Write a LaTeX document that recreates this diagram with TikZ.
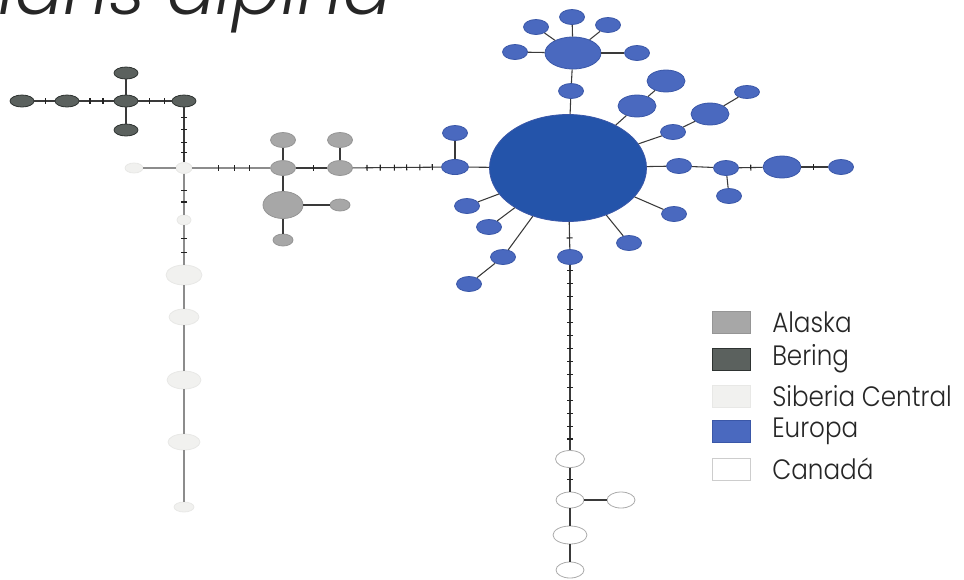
\documentclass[tikz,border=0pt]{standalone}
\usepackage{fontspec}
\setmainfont{Poppins}
\newfontfamily\lgfont{Poppins Light}
\newfontfamily\keyfont{Poppins Light}[FakeStretch=0.88]
\usetikzlibrary{shapes.geometric,decorations.markings}

\definecolor{berF}{HTML}{5B615E}
\definecolor{berD}{HTML}{2E3331}
\definecolor{alaF}{HTML}{A7A7A7}
\definecolor{alaD}{HTML}{959595}
\definecolor{sibF}{HTML}{F1F1EF}
\definecolor{sibD}{HTML}{E8E8E6}
\definecolor{eurF}{HTML}{4A69BF}
\definecolor{eurD}{HTML}{3A57A8}
\definecolor{eurBig}{HTML}{2454AA}
\definecolor{canD}{HTML}{ABABAB}
\definecolor{linkC}{HTML}{3A3A3A}
\definecolor{sibL}{HTML}{8C8C8C}
\definecolor{tkC}{HTML}{222222}

\tikzset{
  hap/.style 2 args={ellipse, inner sep=0pt, line width=0.6pt,
    minimum width=#1*0.75pt, minimum height=#2*0.75pt},
  ber/.style={draw=berD, fill=berF},
  ala/.style={draw=alaD, fill=alaF},
  sib/.style={draw=sibD, fill=sibF},
  eur/.style={draw=eurD, fill=eurF},
  can/.style={draw=canD, fill=white},
  link/.style={draw=linkC, line width=0.8pt},
  slink/.style={draw=sibL, line width=0.8pt},
  tk/.style={postaction={decorate, decoration={markings,
    mark=at position #1 with {\draw[tkC, line width=0.8pt] (0,-3) -- (0,3);}}}},
  tkrun/.style={postaction={decorate, decoration={markings,
    mark=#1 with {\draw[tkC, line width=0.8pt] (0,-3) -- (0,3);}}}},
  keybox/.style={rectangle, inner sep=0pt, minimum width=38*0.75pt,
    minimum height=22*0.75pt, line width=0.4pt},
  keytext/.style={anchor=west, inner sep=0pt, text=black!85,
    font=\keyfont\fontsize{21}{24}\selectfont},
}

\begin{document}
\begin{tikzpicture}[x=0.75pt, y=-0.75pt]
\useasboundingbox (0,0) rectangle (964,579);
\clip (0,0) rectangle (964,579);

% heading, partly cut by the top edge
\node[anchor=base east, inner sep=0pt, text=black!85,
  font=\lgfont\itshape\fontsize{54}{60}\selectfont] (title) at (392,14) {Callians alpina};

% ---------- Bering ----------
\node[hap={24}{12}, ber] (B1) at (22,101) {};
\node[hap={24}{12}, ber] (B2) at (67,101) {};
\node[hap={24}{12}, ber] (B3) at (126,101) {};
\node[hap={24}{12}, ber] (B4) at (126,73) {};
\node[hap={24}{12}, ber] (B5) at (126,130) {};
\node[hap={24}{12}, ber] (B6) at (184,101) {};

% ---------- Siberia Central ----------
\node[hap={16}{11}, sib] (S0) at (184,168) {};
\node[hap={18}{10}, sib] (SL) at (134,168) {};
\node[hap={14}{10}, sib] (S1) at (184,220) {};
\node[hap={36}{20}, sib] (S2) at (184,275) {};
\node[hap={30}{16}, sib] (S3) at (184,317) {};
\node[hap={34}{18}, sib] (S4) at (184,380) {};
\node[hap={32}{16}, sib] (S5) at (184,442) {};
\node[hap={20}{10}, sib] (S6) at (184,507) {};

% ---------- Alaska ----------
\node[hap={25}{15}, ala] (A1) at (283,168) {};
\node[hap={25}{15}, ala] (A2) at (283,140) {};
\node[hap={25}{15}, ala] (A3) at (340,168) {};
\node[hap={25}{15}, ala] (A4) at (340,140) {};
\node[hap={40}{27}, ala] (A5) at (283,205) {};
\node[hap={20}{12}, ala] (A6) at (340,205) {};
\node[hap={20}{12}, ala] (A7) at (283,240) {};

% ---------- Europa ----------
\node[hap={157}{107}, draw=eurD, fill=eurBig] (E0) at (568,168) {};
\node[hap={27}{15}, eur] (EL) at (455,167) {};
\node[hap={25}{15}, eur] (ELt) at (455,133) {};
\node[hap={25}{15}, eur] (E1) at (467,206) {};
\node[hap={25}{15}, eur] (E2) at (489,227) {};
\node[hap={25}{15}, eur] (E3) at (503,257) {};
\node[hap={25}{15}, eur] (E3b) at (469,284) {};
\node[hap={25}{15}, eur] (ED) at (570,257) {};
\node[hap={25}{15}, eur] (E4) at (629,243) {};
\node[hap={25}{15}, eur] (E5) at (674,214) {};
\node[hap={25}{15}, eur] (ER1) at (679,166) {};
\node[hap={25}{15}, eur] (ER2) at (726,168) {};
\node[hap={25}{15}, eur] (ER3) at (729,196) {};
\node[hap={38}{22}, eur] (ER4) at (782,167) {};
\node[hap={25}{15}, eur] (ER5) at (841,167) {};
\node[hap={25}{15}, eur] (EU1) at (673,132) {};
\node[hap={38}{22}, eur] (EU2) at (710,114) {};
\node[hap={25}{13}, eur] (EU3) at (747,92) {};
\node[hap={38}{22}, eur] (EV1) at (637,106) {};
\node[hap={38}{22}, eur] (EV2) at (666,81) {};
\node[hap={25}{15}, eur] (ET) at (571,91) {};
\node[hap={56}{32}, eur] (EH) at (573,53) {};
\node[hap={25}{15}, eur] (EH1) at (572,17) {};
\node[hap={25}{15}, eur] (EH2) at (536,27) {};
\node[hap={25}{15}, eur] (EH3) at (608,25) {};
\node[hap={25}{15}, eur] (EH4) at (515,52) {};
\node[hap={25}{15}, eur] (EH5) at (637,53) {};

% ---------- Canada ----------
\node[hap={29}{17}, can] (C1) at (570,459) {};
\node[hap={28}{16}, can] (C2) at (570,500) {};
\node[hap={28}{16}, can] (C3) at (621,500) {};
\node[hap={34}{18}, can] (C4) at (570,535) {};
\node[hap={28}{16}, can] (C5) at (570,570) {};

% ---------- connectors ----------
\draw[link, tk=0.55] (B1) -- (B2);
\draw[link, tk=0.31, tk=0.69] (B2) -- (B3);
\draw[link, tk=0.34, tk=0.8] (B3) -- (B6);
\draw[link] (B3) -- (B4);
\draw[link] (B3) -- (B5);
\draw[link, tk=0.18, tk=0.41, tk=0.64, tk=0.82] (B6) -- (S0);

\draw[slink] (SL) -- (S0);
\draw[slink, tk=0.34, tk=0.54, tk=0.74] (S0) -- (A1);
\draw[slink, tk=0.4, tk=0.69] (S0) -- (S1);
\draw[slink, tk=0.33, tk=0.68] (S1) -- (S2);
\draw[slink] (S2) -- (S3);
\draw[slink] (S3) -- (S4);
\draw[slink] (S4) -- (S5);
\draw[slink] (S5) -- (S6);

\draw[link] (A1) -- (A2);
\draw[link, tk=0.55] (A1) -- (A3);
\draw[link] (A3) -- (A4);
\draw[link] (A1) -- (A5);
\draw[link] (A5) -- (A6);
\draw[link] (A5) -- (A7);
\draw[link, tk=0.16, tk=0.31, tk=0.47, tk=0.61, tk=0.76, tk=0.9] (A3) -- (EL);

\draw[link] (EL) -- (ELt);
\draw[link] (EL) -- (E0);
\draw[link] (E0) -- (E1);
\draw[link] (E0) -- (E2);
\draw[link] (E0) -- (E3);
\draw[link] (E3) -- (E3b);
\draw[link, tk=0.59] (E0) -- (ED);
\draw[link] (E0) -- (E4);
\draw[link] (E0) -- (E5);
\draw[link] (E0) -- (ER1);
\draw[link] (ER1) -- (ER2);
\draw[link] (ER2) -- (ER3);
\draw[link, tk=0.5] (ER2) -- (ER4);
\draw[link, tk=0.45] (ER4) -- (ER5);
\draw[link] (E0) -- (EU1);
\draw[link] (EU1) -- (EU2);
\draw[link] (EU2) -- (EU3);
\draw[link] (E0) -- (EV1);
\draw[link] (EV1) -- (EV2);
\draw[link] (E0) -- (ET);
\draw[link] (ET) -- (EH);
\draw[link] (EH) -- (EH1);
\draw[link] (EH) -- (EH2);
\draw[link] (EH) -- (EH3);
\draw[link] (EH) -- (EH4);
\draw[link] (EH) -- (EH5);

\draw[link, tkrun={between positions 0.03 and 0.95 step 0.07}] (ED) -- (C1);
\draw[link, tk=0.5] (C1) -- (C2);
\draw[link] (C2) -- (C3);
\draw[link] (C2) -- (C4);
\draw[link] (C4) -- (C5);

% ---------- key ----------
\node[keybox, draw=alaD, fill=alaF] (k1) at (731,322) {};
\node[keybox, draw=berD, fill=berF] (k2) at (731,359) {};
\node[keybox, draw=sibD, fill=sibF] (k3) at (731,396) {};
\node[keybox, draw=eurD, fill=eurF] (k4) at (731,431) {};
\node[keybox, draw=canD!60, fill=white] (k5) at (731,469) {};
\node[keytext] (t1) at (772,322) {Alaska};
\node[keytext] (t2) at (772,359) {Bering};
\node[keytext] (t3) at (772,396) {Siberia Central};
\node[keytext] (t4) at (772,431) {Europa};
\node[keytext] (t5) at (772,469) {Canadá};
\end{tikzpicture}
\end{document}
